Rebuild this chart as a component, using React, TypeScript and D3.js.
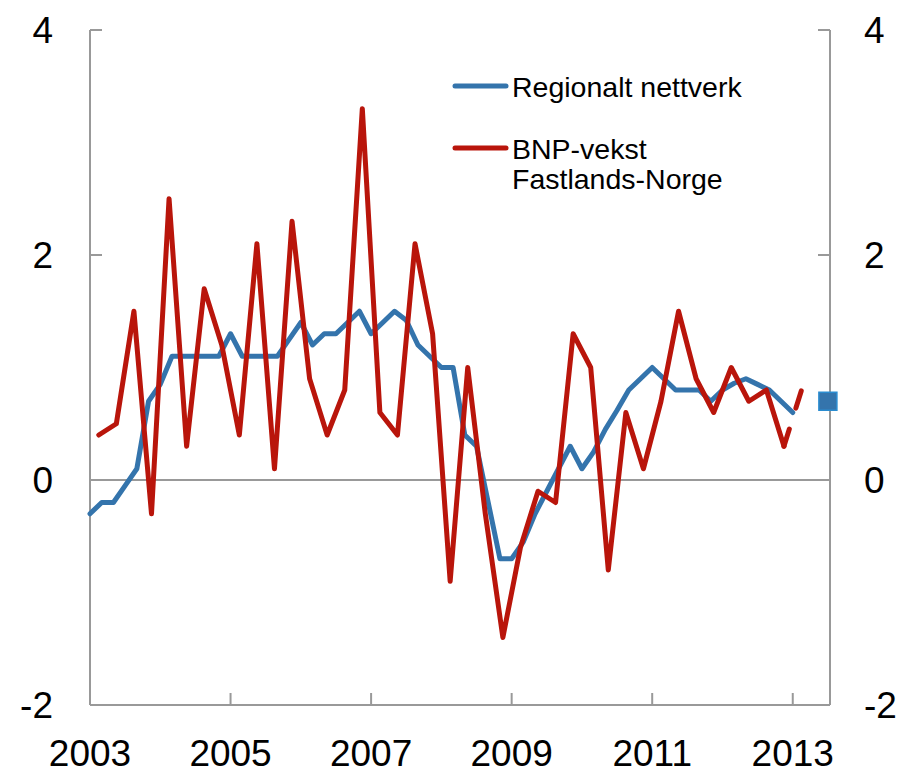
import { useEffect, useRef } from "react";
import * as d3 from "d3";

// Regionalt nettverk, bimonthly from Jan 2003
const blueStart = 2003;
const blueStep = 1 / 6;
const blueValues = [
  -0.3, -0.2, -0.2, -0.05, 0.1, 0.7, 0.85, 1.1, 1.1, 1.1, 1.1, 1.1, 1.3,
  1.1, 1.1, 1.1, 1.1, 1.25, 1.4, 1.2, 1.3, 1.3, 1.4, 1.5, 1.3, 1.4, 1.5,
  1.42, 1.2, 1.1, 1.0, 1.0, 0.4, 0.3, -0.2, -0.7, -0.7, -0.55, -0.3, -0.1,
  0.1, 0.3, 0.1, 0.25, 0.45, 0.62, 0.8, 0.9, 1.0, 0.9, 0.8, 0.8, 0.8, 0.7,
  0.8, 0.86, 0.9, 0.85, 0.8, 0.7, 0.6,
];

// BNP-vekst Fastlands-Norge, quarterly 2003Q1 - 2013Q1 (last quarter dashed)
const redStart = 2003.125;
const redStep = 0.25;
const redValues = [
  0.4, 0.5, 1.5, -0.3, 2.5, 0.3, 1.7, 1.2, 0.4, 2.1, 0.1, 2.3, 0.9, 0.4,
  0.8, 3.3, 0.6, 0.4, 2.1, 1.3, -0.9, 1.0, -0.3, -1.4, -0.6, -0.1, -0.2,
  1.3, 1.0, -0.8, 0.6, 0.1, 0.7, 1.5, 0.9, 0.6, 1.0, 0.7, 0.8, 0.3, 0.8,
];

// Projection marker
const markerYear = 2013.5;
const markerValue = 0.7;

const yTicks = [-2, 0, 2, 4];
const xTicks = [2003, 2005, 2007, 2009, 2011, 2013];
const legendLabels = [["Regionalt nettverk"], ["BNP-vekst", "Fastlands-Norge"]];

const BLUE = "#3474ac";
const RED = "#b9150b";
const GREY = "#999999";
const FONT = "'Liberation Sans', Arial, sans-serif";

export default function App() {
  const svgRef = useRef<SVGSVGElement>(null);

  useEffect(() => {
    const W = 906;
    const H = 773;
    const svg = d3.select(svgRef.current);
    svg.selectAll("*").remove();
    svg.attr("width", W).attr("height", H).attr("viewBox", `0 0 ${W} ${H}`);

    const x = d3.scaleLinear().domain([2003, 2013.53]).range([90, 830]);
    const y = d3.scaleLinear().domain([-2, 4]).range([705, 30]);
    const [x0, x1] = x.range();
    const [yb, yt] = y.range();

    // frame
    const ax = svg.append("g").attr("stroke", GREY).attr("stroke-width", 2);
    ax.append("line").attr("x1", x0).attr("x2", x0).attr("y1", yt).attr("y2", yb);
    ax.append("line").attr("x1", x1).attr("x2", x1).attr("y1", yt).attr("y2", yb);
    ax.append("line").attr("x1", x0).attr("x2", x1).attr("y1", yb).attr("y2", yb);
    ax.append("line").attr("x1", x0).attr("x2", x1).attr("y1", y(0)).attr("y2", y(0));

    yTicks.forEach(t => {
      ax.append("line").attr("x1", x0).attr("x2", x0 + 12).attr("y1", y(t)).attr("y2", y(t));
      ax.append("line").attr("x1", x1 - 12).attr("x2", x1).attr("y1", y(t)).attr("y2", y(t));
    });
    xTicks.filter(t => t > 2003).forEach(t => {
      ax.append("line").attr("x1", x(t)).attr("x2", x(t)).attr("y1", yb).attr("y2", yb - 12);
    });

    // tick labels
    const lab = svg.append("g").attr("font-family", FONT).attr("font-size", 37).attr("fill", "#000");
    yTicks.forEach(t => {
      lab.append("text").attr("x", 53).attr("y", y(t) + 13).attr("text-anchor", "end").text(t);
      lab.append("text").attr("x", 864).attr("y", y(t) + 13).attr("text-anchor", "start").text(t);
    });
    xTicks.forEach(t => {
      lab.append("text").attr("x", x(t)).attr("y", 766).attr("text-anchor", "middle").text(t);
    });

    // series
    const line = d3.line<[number, number]>().x(d => x(d[0])).y(d => y(d[1]));
    const bluePts: [number, number][] = blueValues.map((v, i) => [blueStart + i * blueStep, v]);
    const redPts: [number, number][] = redValues.map((v, i) => [redStart + i * redStep, v]);
    const n = redPts.length;

    svg.append("path").datum(bluePts)
      .attr("fill", "none").attr("stroke", BLUE).attr("stroke-width", 5)
      .attr("stroke-linejoin", "round").attr("stroke-linecap", "round")
      .attr("d", line);

    svg.append("path").datum(redPts.slice(0, n - 1))
      .attr("fill", "none").attr("stroke", RED).attr("stroke-width", 5)
      .attr("stroke-linejoin", "round").attr("stroke-linecap", "round")
      .attr("d", line);

    svg.append("path").datum(redPts.slice(n - 2))
      .attr("fill", "none").attr("stroke", RED).attr("stroke-width", 5)
      .attr("stroke-dasharray", "18 22")
      .attr("stroke-linecap", "round")
      .attr("d", line);

    svg.append("rect")
      .attr("x", x(markerYear) - 9).attr("y", y(markerValue) - 9)
      .attr("width", 18).attr("height", 18)
      .attr("fill", BLUE).attr("stroke", "#2a8cd0").attr("stroke-width", 1.5);

    // legend
    const lg = svg.append("g").attr("font-family", FONT).attr("font-size", 28.5).attr("fill", "#000");
    const legendColors = [BLUE, RED];
    const legendY = [86, 148];
    legendLabels.forEach((lines, i) => {
      lg.append("line").attr("x1", 455).attr("x2", 506).attr("y1", legendY[i]).attr("y2", legendY[i])
        .attr("stroke", legendColors[i]).attr("stroke-width", 5).attr("stroke-linecap", "round");
      lines.forEach((s, j) => {
        lg.append("text").attr("x", 512).attr("y", legendY[i] + 11 + j * 30).text(s);
      });
    });
  }, []);

  return (
    <div style={{ position: "absolute", left: 0, top: 0 }}>
      <svg ref={svgRef} style={{ display: "block", background: "#fff" }} />
    </div>
  );
}
